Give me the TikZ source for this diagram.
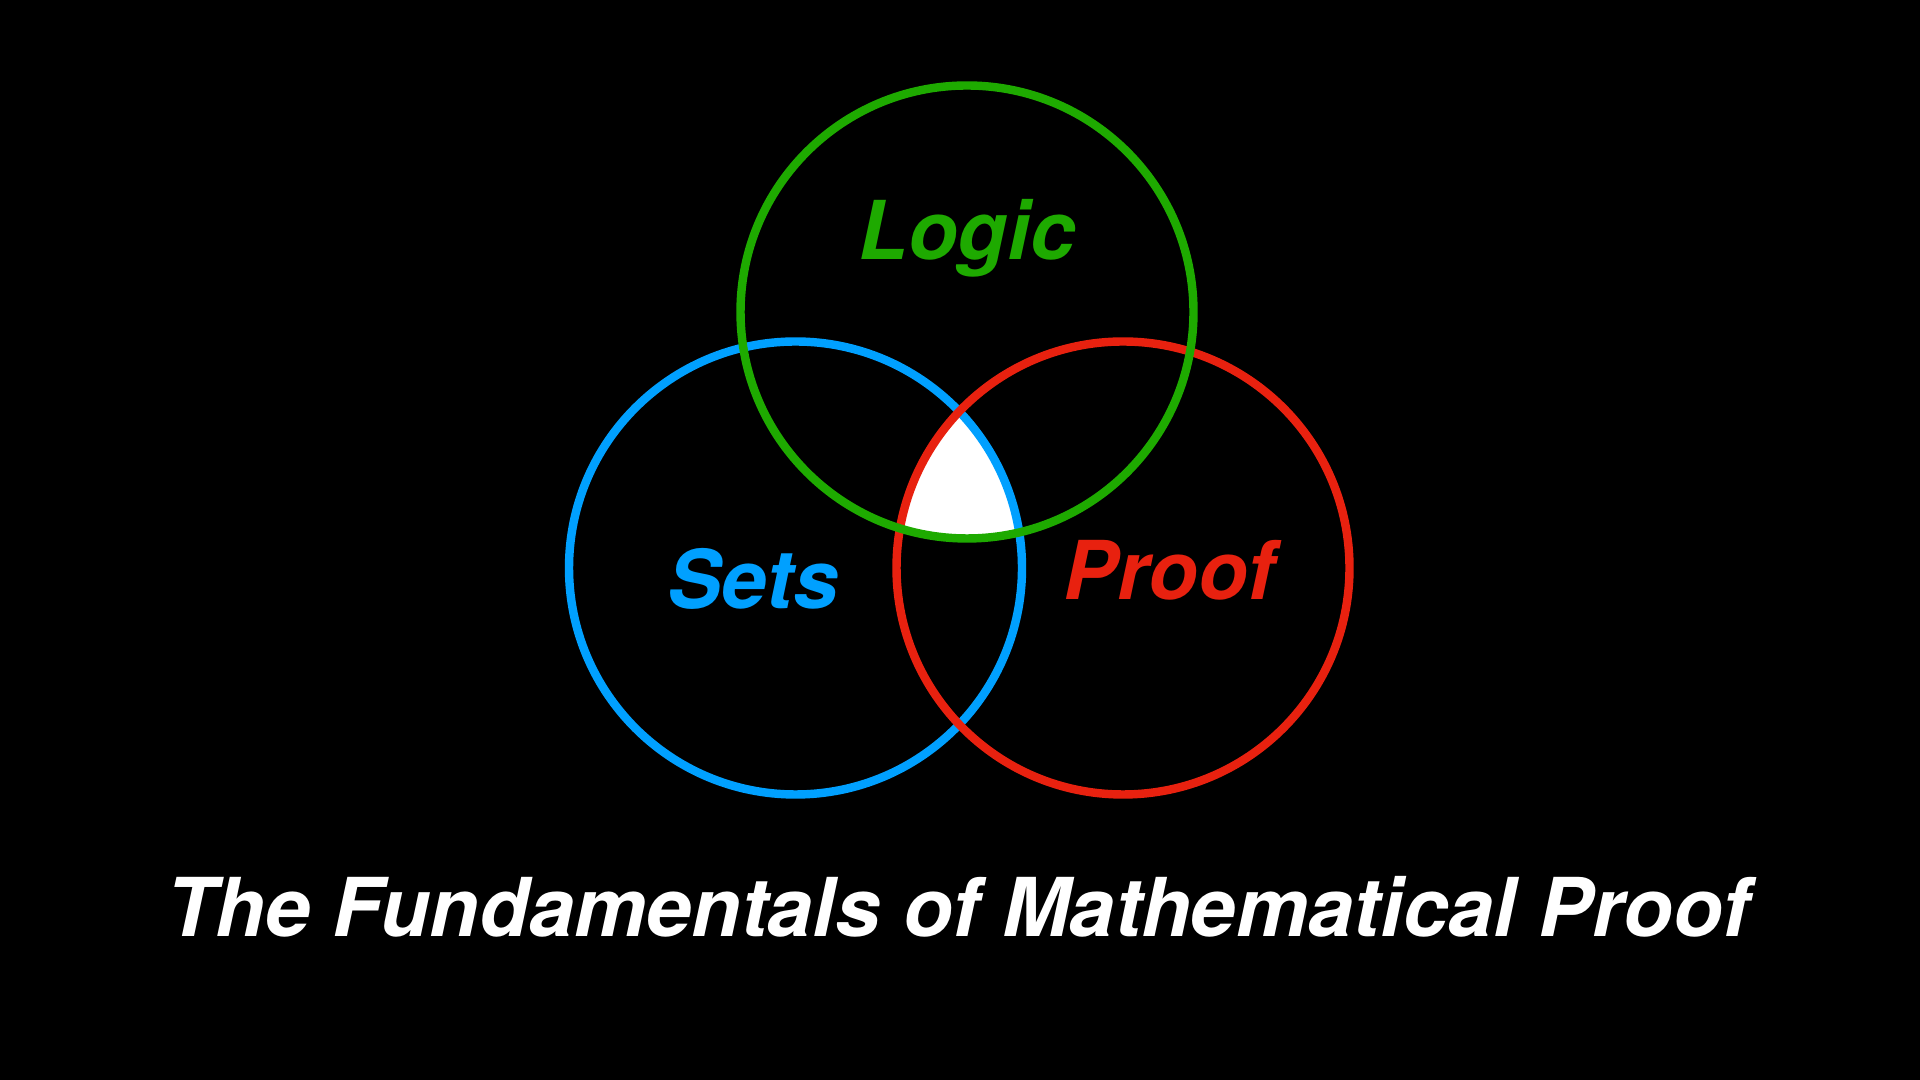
\documentclass[tikz,border=0pt]{standalone}
\usepackage{fontspec}
\setmainfont{TeX Gyre Heros}
\definecolor{logicgreen}{RGB}{30,170,0}
\definecolor{setsblue}{RGB}{0,160,255}
\definecolor{proofred}{RGB}{232,33,15}
\tikzset{
 ring/.style={draw=#1,line width=2.4pt},
 word/.style={text=#1,anchor=base,inner sep=0pt,font=\fontsize{23.1}{28}\selectfont\bfseries\itshape}
}
\begin{document}
\begin{tikzpicture}[x=1cm,y=1cm]
 \fill[black] (0,0) rectangle (19.2,10.8);
 \coordinate (L) at (9.67,7.68);
 \coordinate (S) at (7.955,5.12);
 \coordinate (P) at (11.23,5.12);
 % the middle part that all three share
 \begin{scope}
  \clip (L) circle (2.265);
  \clip (S) circle (2.265);
  \fill[white] (P) circle (2.265);
 \end{scope}
 \draw[ring=setsblue] (S) circle (2.265);
 \draw[ring=proofred] (P) circle (2.265);
 \draw[ring=logicgreen] (L) circle (2.265);
 \node[word=logicgreen] (logic) at (9.67,8.20) {Logic};
 \node[word=setsblue] (sets) at (7.53,4.71) {Sets};
 \node[word=proofred] (proof) at (11.69,4.80) {Proof};
 \node[word=white,font=\fontsize{23.1}{28}\selectfont\bfseries\itshape] (title) at (9.58,1.43) {The Fundamentals of Mathematical Proof};
\end{tikzpicture}
\end{document}
